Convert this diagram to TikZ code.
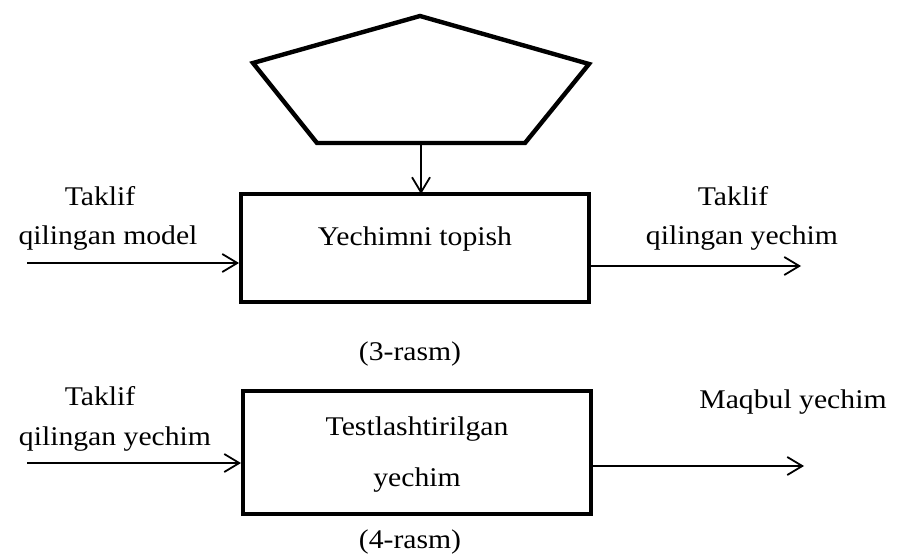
\documentclass[tikz,border=0pt]{standalone}
\usepackage{fontspec}
\setmainfont{Liberation Serif}[FakeStretch=1.1]
\usetikzlibrary{arrows.meta}
\begin{document}
\begin{tikzpicture}[x=1pt,y=-1pt,
  blk/.style={draw,line width=4.4pt},
  flow/.style={line width=1.8pt,-{Straight Barb[length=15pt,width=18pt,line width=1.8pt]}},
  lbl/.style={font=\fontsize{27}{30}\selectfont,inner sep=0pt,anchor=base},
  every node/.style={lbl}]
\useasboundingbox (0,0) rectangle (900,556);
% pentagon
\draw[blk,line join=miter] (420,16) -- (589,64) -- (525,143) -- (317,143) -- (253,63) -- cycle;
\coordinate (pb) at (421,143);
% boxes
\draw[blk] (241,194) rectangle (589,302);
\coordinate (b1top) at (421,194);
\draw[blk] (243,391) rectangle (591,514);
% arrows
\coordinate (in1) at (27,263);
\coordinate (b1l) at (239,263);
\coordinate (b1r) at (591,266);
\coordinate (out1) at (801,266);
\coordinate (in2) at (27,463);
\coordinate (b2l) at (241,463);
\coordinate (b2r) at (593,466);
\coordinate (out2) at (804,466);
\draw[flow] (pb) -- (b1top);
\draw[flow] (in1) -- (b1l);
\draw[flow] (b1r) -- (out1);
\draw[flow] (in2) -- (b2l);
\draw[flow] (b2r) -- (out2);
% texts
\node (t1) at (100,206) {Taklif};
\node (t2) at (108,245) {qilingan model};
\node (t3) at (733,206) {Taklif};
\node (t4) at (742,245) {qilingan yechim};
\node (y1) at (415,246) {Yechimni topish};
\node (c3) at (410,360) {(3-rasm)};
\node (t5) at (100,405) {Taklif};
\node (t6) at (115,445) {qilingan yechim};
\node (m1) at (793,408) {Maqbul yechim};
\node (y2) at (417,435) {Testlashtirilgan};
\node (y3) at (417,486) {yechim};
\node (c4) at (410,548) {(4-rasm)};
\end{tikzpicture}
\end{document}
